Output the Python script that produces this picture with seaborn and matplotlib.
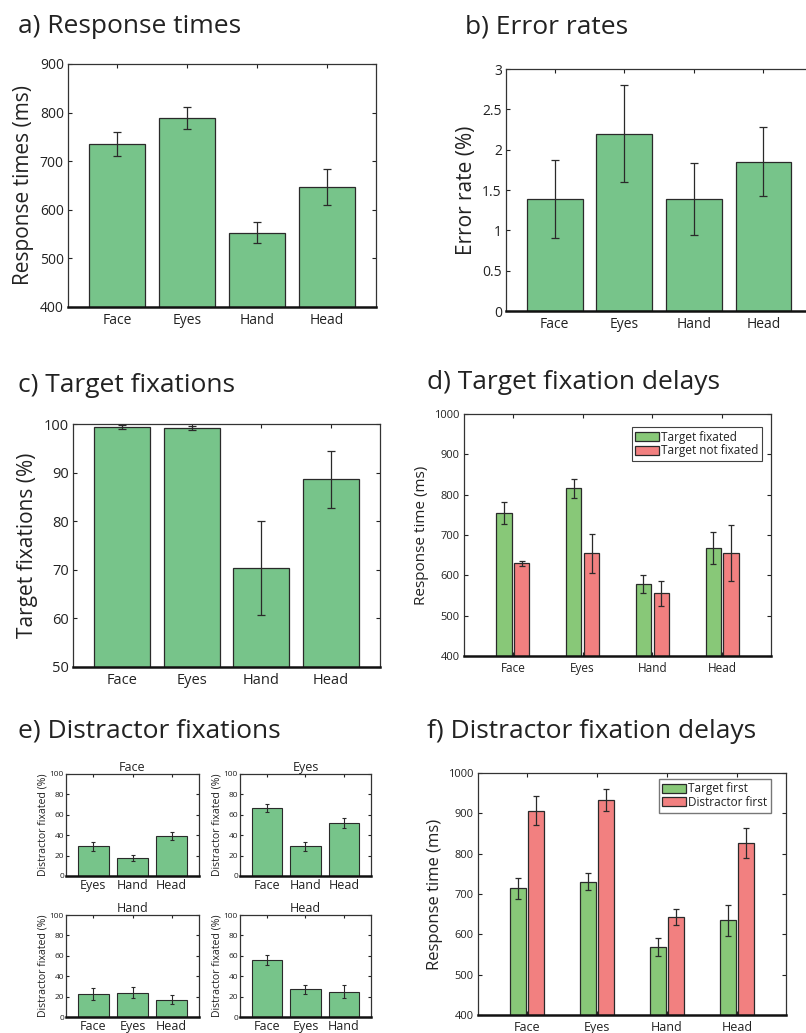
import numpy as np
import pandas as pd
import seaborn as sns
import matplotlib
matplotlib.use("Agg")
import matplotlib.pyplot as plt

# ------- Data -------

cats = ["Face", "Eyes", "Hand", "Head"]

# a) response times (ms)
rt_mean = [735, 789, 553, 646]
rt_err = [25, 23, 22, 37]

# b) error rates (%)
er_mean = [1.39, 2.20, 1.39, 1.85]
er_err = [0.48, 0.60, 0.45, 0.43]

# c) target fixations (%)
tf_mean = [99.3, 99.2, 70.4, 88.6]
tf_err = [0.4, 0.4, 9.7, 5.9]

# d) target fixation delays (ms)
tfd_labels = ["Target fixated", "Target not fixated"]
tfd_fix = [755, 816, 578, 668]
tfd_fix_err = [28, 24, 23, 40]
tfd_not = [630, 655, 555, 655]
tfd_not_err = [6, 48, 30, 70]

# e) distractor fixations (%), one small panel per target
dist_panels = ["Face", "Eyes", "Hand", "Head"]
dist_cats = [["Eyes", "Hand", "Head"], ["Face", "Hand", "Head"],
             ["Face", "Eyes", "Head"], ["Face", "Eyes", "Hand"]]
dist_vals = [[29, 18, 39.5], [67, 29, 52], [22.5, 24, 17], [55.5, 27, 25]]
dist_errs = [[4, 3, 4], [4, 4, 5], [6, 5.5, 4.5], [5, 4, 6]]

# f) distractor fixation delays (ms)
dfd_labels = ["Target first", "Distractor first"]
dfd_target = [714, 730, 569, 635]
dfd_target_err = [26, 21, 22, 38]
dfd_dist = [906, 933, 644, 826]
dfd_dist_err = [36, 28, 20, 37]

GREEN = "#77c48a"
GREEN2 = "#88c878"
RED = "#f28080"
EDGE = "#2a2a2a"
TXT = "#222222"

# ------- Style -------

sns.set_style("ticks")
plt.rcParams["font.family"] = ["Open Sans", "DejaVu Sans"]
plt.rcParams["text.color"] = TXT
plt.rcParams["axes.labelcolor"] = TXT
plt.rcParams["xtick.color"] = TXT
plt.rcParams["ytick.color"] = TXT

W, H = 806, 1033
fig = plt.figure(figsize=(W / 100, H / 100), dpi=100)


def add_ax(l, t, r, b):
    return fig.add_axes([l / W, 1 - b / H, (r - l) / W, (b - t) / H])


def style_ax(ax, ylim, yticks, yticklabels, xlim, tick_fs, xtick_fs, ylabel, ylabel_fs, ticklen=3):
    ax.set_xlim(xlim)
    ax.set_ylim(ylim)
    ax.set_yticks(yticks)
    ax.set_yticklabels(yticklabels)
    ax.tick_params(axis="y", direction="in", left=True, right=True, length=ticklen,
                   width=0.8, labelsize=tick_fs, pad=3)
    ax.tick_params(axis="x", direction="in", bottom=True, top=True, length=ticklen,
                   width=0.8, labelsize=xtick_fs, pad=4)
    for s in ax.spines.values():
        s.set_visible(True)
        s.set_linewidth(0.9)
        s.set_color("#333333")
    ax.spines["bottom"].set_linewidth(1.8)
    ax.spines["bottom"].set_color("#111111")
    ax.set_xlabel("")
    ax.set_ylabel(ylabel, fontsize=ylabel_fs, labelpad=4)


def single_bars(ax, labels, means, errs, color, capsize=3, lw=0.9):
    df = pd.DataFrame({"cat": labels, "val": means})
    sns.barplot(data=df, x="cat", y="val", color=color, errorbar=None, width=0.8,
                edgecolor=EDGE, linewidth=lw, saturation=1, ax=ax)
    xs = [p.get_x() + p.get_width() / 2 for p in ax.containers[0]]
    ax.errorbar(xs, means, yerr=errs, fmt="none", ecolor=EDGE, elinewidth=lw,
                capsize=capsize, capthick=lw, zorder=5)


def grouped_bars(ax, labels, s1, e1, s2, e2, colors):
    df = pd.DataFrame({"cat": cats * 2,
                       "cond": [labels[0]] * 4 + [labels[1]] * 4,
                       "val": s1 + s2})
    sns.barplot(data=df, x="cat", y="val", hue="cond", palette=colors, errorbar=None,
                width=0.51, gap=0.14, edgecolor=EDGE, linewidth=0.9, saturation=1, ax=ax)
    for cont, vals, errs in zip(ax.containers, [s1, s2], [e1, e2]):
        xs = [p.get_x() + p.get_width() / 2 for p in cont]
        ax.errorbar(xs, vals, yerr=errs, fmt="none", ecolor=EDGE, elinewidth=0.9,
                    capsize=2.5, capthick=0.9, zorder=5)


# ------- a) Response times -------
ax = add_ax(68, 64, 376, 307)
single_bars(ax, cats, rt_mean, rt_err, GREEN)
yt = list(range(400, 901, 100))
style_ax(ax, (400, 900), yt, [str(v) for v in yt], (-0.7, 3.7), 10, 10,
         "Response times (ms)", 15)
fig.text(18 / W, 1 - 33 / H, "a) Response times", fontsize=19, va="baseline")

# ------- b) Error rates -------
ax = add_ax(506, 69, 812, 311)
single_bars(ax, cats, er_mean, er_err, GREEN)
yt = [0, 0.5, 1, 1.5, 2, 2.5, 3]
style_ax(ax, (0, 3), yt, ["0", "0.5", "1", "1.5", "2", "2.5", "3"], (-0.7, 3.7), 10, 10,
         "Error rate (%)", 15)
fig.text(465 / W, 1 - 33 / H, "b) Error rates", fontsize=19, va="baseline")

# ------- c) Target fixations -------
ax = add_ax(73, 424, 380, 667)
single_bars(ax, cats, tf_mean, tf_err, GREEN)
yt = list(range(50, 101, 10))
style_ax(ax, (50, 100), yt, [str(v) for v in yt], (-0.7, 3.7), 10.5, 10.5,
         "Target fixations (%)", 15)
fig.text(18 / W, 1 - 392 / H, "c) Target fixations", fontsize=19, va="baseline")

# ------- d) Target fixation delays -------
ax = add_ax(464, 414, 771, 656)
grouped_bars(ax, tfd_labels, tfd_fix, tfd_fix_err, tfd_not, tfd_not_err, [GREEN2, RED])
yt = list(range(400, 1001, 100))
style_ax(ax, (400, 1000), yt, [str(v) for v in yt], (-0.7, 3.7), 8, 8.5,
         "Response time (ms)", 11)
sns.move_legend(ax, "upper right", title=None, frameon=True, fancybox=False,
                edgecolor="#111111", fontsize=8.5, handlelength=2.0, handleheight=0.8,
                handletextpad=0.2, borderpad=0.3, labelspacing=0.05,
                bbox_to_anchor=(0.99, 0.97))
ax.get_legend().get_frame().set_linewidth(0.8)
fig.text(427 / W, 1 - 389 / H, "d) Target fixation delays", fontsize=19, va="baseline")

# ------- e) Distractor fixations -------
e_boxes = [(66, 774, 199, 876), (240, 774, 371, 876),
           (66, 915, 199, 1017), (240, 915, 371, 1017)]
for box, title, labs, vals, errs in zip(e_boxes, dist_panels, dist_cats, dist_vals, dist_errs):
    ax = add_ax(*box)
    single_bars(ax, labs, vals, errs, GREEN, capsize=1.5, lw=0.8)
    yt = list(range(0, 101, 20))
    style_ax(ax, (0, 100), yt, [str(v) for v in yt], (-0.7, 2.7), 6, 9,
             "Distractor fixated (%)", 7.6, ticklen=2)
    ax.yaxis.labelpad = 1
    ax.tick_params(axis="y", pad=1.5)
    ax.tick_params(axis="x", pad=2)
    ax.set_title(title, fontsize=9, pad=2)
fig.text(18 / W, 1 - 737 / H, "e) Distractor fixations", fontsize=19, va="baseline")

# ------- f) Distractor fixation delays -------
ax = add_ax(478, 773, 786, 1015)
grouped_bars(ax, dfd_labels, dfd_target, dfd_target_err, dfd_dist, dfd_dist_err, [GREEN2, RED])
yt = list(range(400, 1001, 100))
style_ax(ax, (400, 1000), yt, [str(v) for v in yt], (-0.7, 3.7), 8, 9,
         "Response time (ms)", 12)
sns.move_legend(ax, "upper right", title=None, frameon=True, fancybox=False,
                edgecolor="#555555", fontsize=8.5, handlelength=2.0, handleheight=0.8,
                handletextpad=0.2, borderpad=0.3, labelspacing=0.05,
                bbox_to_anchor=(0.97, 1.0))
ax.get_legend().get_frame().set_linewidth(1.0)
fig.text(427 / W, 1 - 738 / H, "f) Distractor fixation delays", fontsize=19, va="baseline")

fig.savefig("out.png", dpi=100)
